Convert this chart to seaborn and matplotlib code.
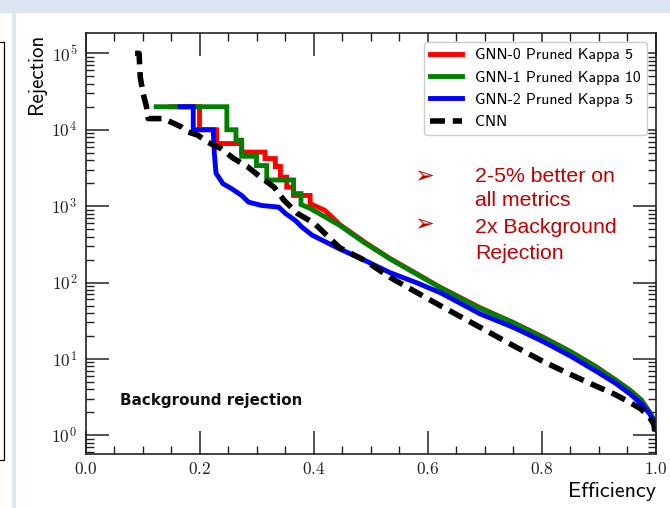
import numpy as np
import pandas as pd
import matplotlib
matplotlib.use("Agg")
import matplotlib.pyplot as plt
import seaborn as sns
from matplotlib.ticker import MultipleLocator, LogLocator, FuncFormatter, NullFormatter
from matplotlib.patches import Rectangle
from matplotlib.lines import Line2D
from matplotlib.font_manager import FontProperties

# ---------------- data ----------------
series_names = ["GNN-0 Pruned Kappa 5", "GNN-1 Pruned Kappa 10", "GNN-2 Pruned Kappa 5", "CNN"]
series_colors = ["#ff0000", "#008000", "#0000ff", "#000000"]

gnn0_eff = [0.150, 0.200, 0.200, 0.230, 0.230, 0.274, 0.274, 0.315, 0.315, 0.333, 0.333, 0.342, 0.342,
            0.353, 0.353, 0.365, 0.365, 0.394, 0.394, 0.420, 0.446, 0.490, 0.534, 0.580, 0.622, 0.692,
            0.750, 0.800, 0.850, 0.896, 0.930, 0.955, 0.975, 0.990, 0.997, 1.000]
gnn0_rej = [2.0e4, 2.0e4, 1.0e4, 1.0e4, 6.6e3, 6.6e3, 5.1e3, 5.1e3, 4.2e3, 4.2e3, 3.3e3, 3.3e3, 2.4e3,
            2.4e3, 1.77e3, 1.77e3, 1.38e3, 1.38e3, 1.08e3, 880, 575, 338, 207, 132, 87, 47,
            30, 19.8, 12.6, 7.9, 5.3, 3.9, 2.9, 2.0, 1.6, 1.3]

gnn1_eff = [0.124, 0.248, 0.248, 0.264, 0.264, 0.274, 0.274, 0.300, 0.300, 0.318, 0.318, 0.365, 0.365,
            0.378, 0.378, 0.392, 0.410, 0.446, 0.490, 0.534, 0.580, 0.622, 0.692, 0.750, 0.800,
            0.850, 0.896, 0.930, 0.955, 0.975, 0.990, 0.997, 1.000]
gnn1_rej = [2.0e4, 2.0e4, 1.0e4, 1.0e4, 7.3e3, 7.3e3, 4.5e3, 4.5e3, 3.4e3, 3.4e3, 2.2e3, 2.2e3, 1.46e3,
            1.46e3, 1.05e3, 950, 800, 560, 330, 204, 130, 86, 46, 30, 19.5,
            12.5, 7.8, 5.3, 3.9, 2.9, 2.0, 1.6, 1.3]

gnn2_eff = [0.166, 0.189, 0.189, 0.224, 0.226, 0.229, 0.241, 0.256, 0.274, 0.286, 0.309, 0.339, 0.351,
            0.368, 0.380, 0.397, 0.410, 0.446, 0.490, 0.534, 0.580, 0.622, 0.692, 0.750, 0.800,
            0.850, 0.896, 0.930, 0.955, 0.975, 0.990, 0.997, 1.000]
gnn2_rej = [2.0e4, 2.0e4, 1.0e4, 1.0e4, 4.9e3, 2.7e3, 1.97e3, 1.7e3, 1.38e3, 1.13e3, 1.02e3, 970, 800,
            650, 530, 420, 375, 275, 195, 135, 100, 74, 39, 26, 17.3,
            11, 6.9, 4.8, 3.5, 2.6, 1.9, 1.5, 1.2]

cnn_eff = [0.087, 0.094, 0.096, 0.101, 0.107, 0.110, 0.137, 0.149, 0.167, 0.179, 0.197, 0.214, 0.237,
           0.260, 0.284, 0.307, 0.331, 0.348, 0.372, 0.401, 0.446, 0.490, 0.534, 0.580, 0.622, 0.692,
           0.750, 0.800, 0.850, 0.896, 0.930, 0.955, 0.975, 0.990, 0.997, 1.000]
cnn_rej = [1.0e5, 1.0e5, 4.9e4, 3.0e4, 2.0e4, 1.4e4, 1.4e4, 1.27e4, 1.1e4, 9.4e3, 8.5e3, 6.9e3, 5.7e3,
           4.2e3, 3.3e3, 2.4e3, 1.77e3, 1.2e3, 800, 600, 285, 195, 117, 75, 50, 26,
           15, 9.5, 6.3, 4.4, 3.4, 2.7, 2.2, 1.7, 1.4, 1.0]

x_label = "Efficiency"
y_label = "Rejection"
note_text = "Background rejection"
bullet_lines = [["2-5% better on", "all metrics"], ["2x Background", "Rejection"]]

# ---------------- build a long table ----------------
frames = []
for name, e, r in zip(series_names, [gnn0_eff, gnn1_eff, gnn2_eff, cnn_eff],
                      [gnn0_rej, gnn1_rej, gnn2_rej, cnn_rej]):
    frames.append(pd.DataFrame({"eff": e, "rej": r, "model": name, "order": np.arange(len(e))}))
df = pd.concat(frames, ignore_index=True)

plt.rcParams["mathtext.fontset"] = "cm"
plt.rcParams["lines.solid_capstyle"] = "projecting"
plt.rcParams["lines.solid_joinstyle"] = "miter"

W, H = 670, 508
fig = plt.figure(figsize=(W / 100, H / 100), dpi=100)
fig.patch.set_facecolor("white")

# slide decorations
fig.patches.append(Rectangle((0, 1 - 13 / H), 1, 13 / H, transform=fig.transFigure,
                             facecolor="#dce6f2", edgecolor="none", zorder=-5))
fig.patches.append(Rectangle((11.5 / W, 0), 4 / W, 1, transform=fig.transFigure,
                             facecolor="#dce6f2", edgecolor="none", zorder=-5))
fig.add_artist(Line2D([0, 3.5 / W, 3.5 / W, 0], [1 - 41.7 / H, 1 - 41.7 / H, 1 - 460 / H, 1 - 460 / H],
                      transform=fig.transFigure, color="black", lw=0.9))

ax_l, ax_r, ax_t, ax_b = 85.5, 655.5, 33.3, 454.0
ax = fig.add_axes([ax_l / W, 1 - ax_b / H, (ax_r - ax_l) / W, (ax_b - ax_t) / H])

for name, col in zip(series_names, series_colors):
    sub = df[df["model"] == name].sort_values("order")
    if name == "CNN":
        sns.lineplot(data=sub, x="eff", y="rej", color=col, lw=4.0, estimator=None, sort=False,
                     ax=ax, label=name, linestyle=(0, (2.7, 1.4)))
    else:
        sns.lineplot(data=sub, x="eff", y="rej", color=col, lw=3.5, estimator=None, sort=False,
                     ax=ax, label=name)

ax.set_yscale("log")
ax.set_xlim(0, 1)
ax.set_ylim(0.57, 1.83e5)

ax.xaxis.set_major_locator(MultipleLocator(0.2))
ax.xaxis.set_minor_locator(MultipleLocator(0.05))
ax.xaxis.set_major_formatter(FuncFormatter(lambda v, p: r"$%.1f$" % v))
ax.yaxis.set_major_locator(LogLocator(base=10, numticks=12))
ax.yaxis.set_minor_locator(LogLocator(base=10, subs=np.arange(2, 10), numticks=30))
ax.yaxis.set_major_formatter(FuncFormatter(lambda v, p: r"$10^{%d}$" % int(round(np.log10(v)))))
ax.yaxis.set_minor_formatter(NullFormatter())

ax.tick_params(which="both", direction="in", top=True, right=True, colors="#222222")
ax.tick_params(which="major", length=16.5, width=1.1, labelsize=12.5)
ax.tick_params(axis="x", which="major", pad=4)
ax.tick_params(axis="y", which="major", pad=6)
ax.tick_params(which="minor", length=6, width=1.0)
for s in ax.spines.values():
    s.set_linewidth(1.2)
    s.set_color("#222222")

ax.set_xlabel(x_label, fontfamily="cmss10", fontsize=15.8, loc="right")
ax.xaxis.set_label_coords(1.0, -0.066)
ax.set_ylabel(y_label, fontfamily="cmss10", fontsize=15, loc="top")
ax.yaxis.set_label_coords(-0.069, 1.0)

leg = ax.legend(loc="upper right", prop=FontProperties(family="cmss10", size=11.3),
                handlelength=2.0, handletextpad=0.85, labelspacing=0.53, borderpad=0.4,
                borderaxespad=0.55, frameon=True, fancybox=True, framealpha=1.0,
                edgecolor="#cccccc")

ax.text((120 - ax_l) / (ax_r - ax_l), (ax_b - 405) / (ax_b - ax_t), note_text,
        transform=ax.transAxes, fontfamily="DejaVu Sans", fontweight="bold", fontsize=10.9,
        va="baseline", ha="left", color="#111111")

red = "#c00000"
arrow_y = [176, 224.5]
base_y = [[182, 206], [233, 259]]
for ay, lines, bys in zip(arrow_y, bullet_lines, base_y):
    fig.text(424 / W, 1 - ay / H, "\u27a2", color=red, fontsize=17, ha="center", va="center",
             fontfamily="DejaVu Sans")
    for txt, by in zip(lines, bys):
        fig.text(475 / W, 1 - by / H, txt, color=red, fontsize=15.3, ha="left", va="baseline",
                 fontfamily="Liberation Sans")

fig.savefig("out.png", dpi=100, facecolor="white")
